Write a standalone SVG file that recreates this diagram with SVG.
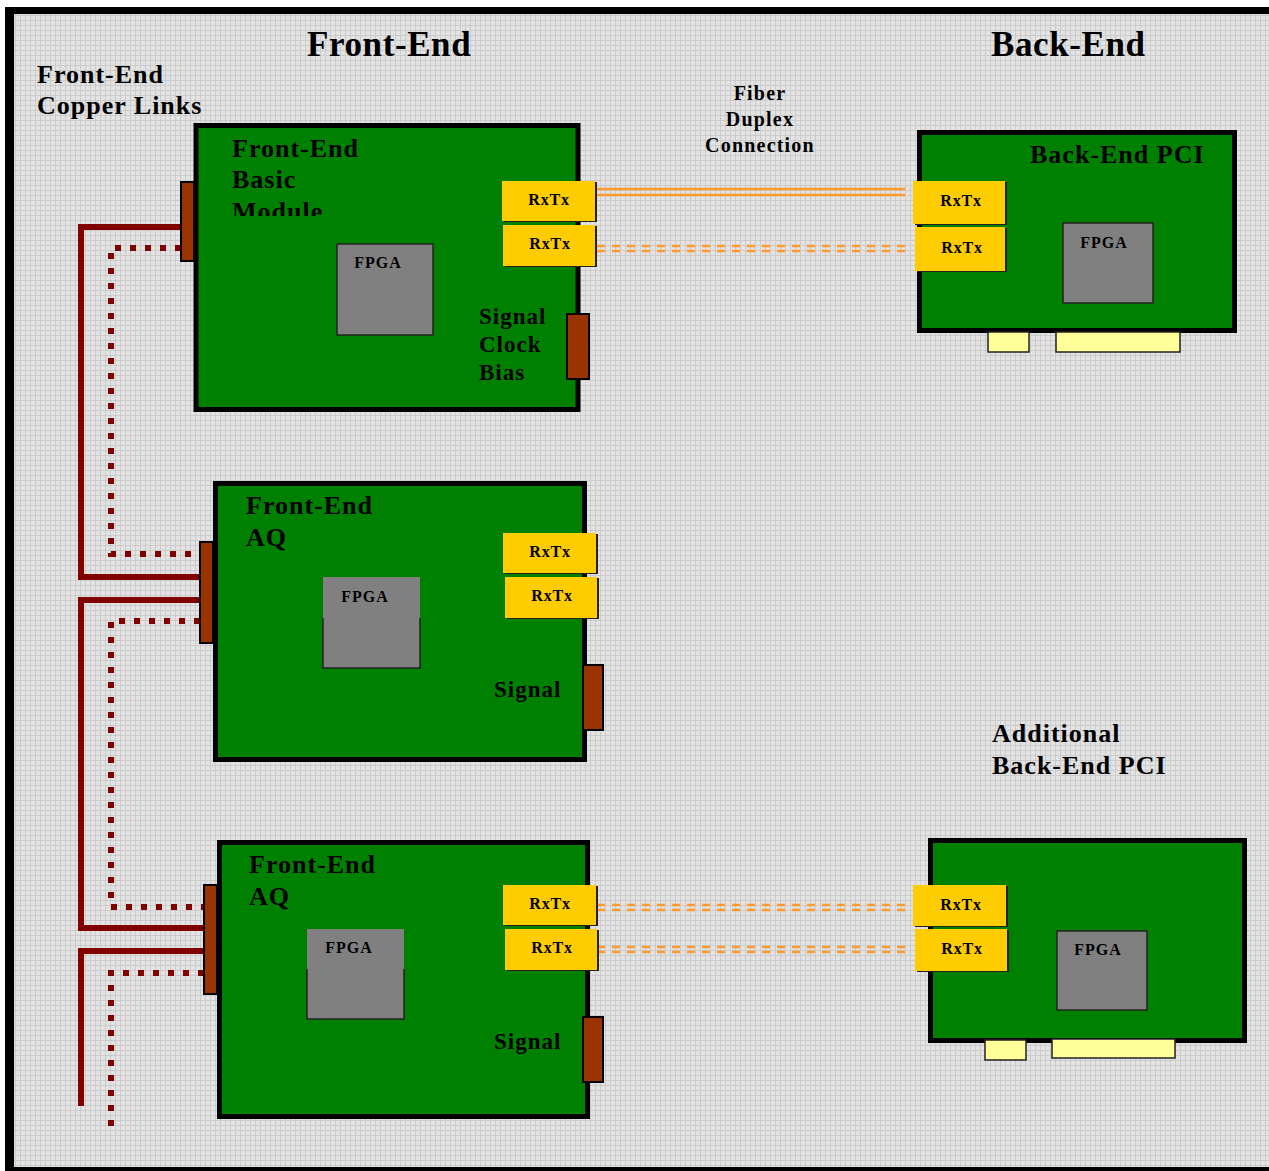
<svg xmlns="http://www.w3.org/2000/svg" width="1269" height="1171" viewBox="0 0 1269 1171">
<defs>
<pattern id="grid" x="0" y="0" width="5" height="5" patternUnits="userSpaceOnUse">
<rect width="5" height="5" fill="#e3e3e3"/>
<path d="M0 0.5H5M0.5 0V5" stroke="#cbcbcb" stroke-width="1"/>
</pattern>
<clipPath id="modclip"><rect x="190" y="120" width="400" height="96"/></clipPath>
<style>
.t{font-family:"Liberation Serif","Times New Roman",serif;font-weight:bold;fill:#000;letter-spacing:1px}
.big{font-size:35px;letter-spacing:0.6px}
.lbl{font-size:26px}
.sig{font-size:23px}
.fib{font-size:20px;letter-spacing:1.2px}
.rx{font-size:16px;letter-spacing:0.8px;text-anchor:middle}
.fp{font-size:16px;letter-spacing:1px;text-anchor:middle}
.board{fill:#008000;stroke:#000;stroke-width:5}
.conn{fill:#993300;stroke:#000;stroke-width:2}
.rxb{fill:#ffcc00}
.rxs{fill:#222}
.fpga{fill:#808080}
.fpo{fill:none;stroke:#222;stroke-width:1.5}
.tab{fill:#ffff99;stroke:#222;stroke-width:1.5}
.cu{fill:none;stroke:#800000;stroke-width:6}
.cud{fill:none;stroke:#800000;stroke-width:6;stroke-dasharray:6 9}
.fo{fill:none;stroke:#ff9a2e;stroke-width:2.5}
.fod{fill:none;stroke:#ff9a2e;stroke-width:2.5;stroke-dasharray:8 7}
</style>
</defs>

<g id="frame">
<rect x="0" y="0" width="1269" height="1171" fill="#ffffff"/>
<rect x="5" y="7" width="1264" height="1164" fill="#000"/>
<rect x="14" y="14" width="1255" height="1153" fill="url(#grid)"/>
</g>

<g id="titles">
<text class="t big" x="307" y="56">Front-End</text>
<text class="t big" x="991" y="56">Back-End</text>
<text class="t lbl" x="37" y="83">Front-End</text>
<text class="t lbl" x="37" y="114">Copper Links</text>
<text class="t fib" x="760" y="100" text-anchor="middle">Fiber</text>
<text class="t fib" x="760" y="126" text-anchor="middle">Duplex</text>
<text class="t fib" x="760" y="152" text-anchor="middle">Connection</text>
<text class="t lbl" x="992" y="742">Additional</text>
<text class="t lbl" x="992" y="774">Back-End PCI</text>
</g>

<g id="connectors">
<path class="cu" d="M181 227H81V577H200"/>
<path class="cu" d="M200 600H81V928H204"/>
<path class="cu" d="M204 951H81V1106"/>
<path class="cud" d="M181 248H111V554H200"/>
<path class="cud" d="M200 621H111V907H204"/>
<path class="cud" d="M204 973H111V1126"/>
<path class="fo" d="M597 189H905M597 195H905"/>
<path class="fod" d="M597 246H910M597 251H910"/>
<path class="fod" d="M597 905H910M597 910H910"/>
<path class="fod" d="M597 947H910M597 952H910"/>
</g>

<g id="fe-basic-module">
<rect class="board" x="196" y="125.5" width="382" height="284"/>
<rect class="conn" x="181" y="182" width="13" height="79"/>
<rect class="conn" x="567" y="314" width="22" height="65"/>
<text class="t lbl" x="232" y="157">Front-End</text>
<text class="t lbl" x="232" y="188">Basic</text>
<text class="t lbl" x="232" y="220" clip-path="url(#modclip)">Module</text>
<text class="t sig" x="479" y="324">Signal</text>
<text class="t sig" x="479" y="352">Clock</text>
<text class="t sig" x="479" y="380">Bias</text>
<rect class="fpga" x="337" y="244" width="96" height="91" stroke="#222" stroke-width="1.5"/>
<text class="t fp" x="378" y="268">FPGA</text>
<rect class="rxs" x="504" y="182" width="93" height="40"/>
<rect class="rxb" x="502" y="181" width="93" height="40"/>
<text class="t rx" x="549" y="205">RxTx</text>
<rect class="rxs" x="505" y="226" width="92" height="41"/>
<rect class="rxb" x="503" y="225" width="92" height="41"/>
<text class="t rx" x="550" y="249">RxTx</text>
</g>

<g id="fe-aq-1">
<rect class="board" x="215.5" y="483.5" width="369" height="276"/>
<rect class="conn" x="200" y="542" width="13" height="101"/>
<rect class="conn" x="583" y="665" width="20" height="65"/>
<text class="t lbl" x="246" y="514">Front-End</text>
<text class="t lbl" x="246" y="546">AQ</text>
<text class="t sig" x="494" y="697">Signal</text>
<rect class="fpga" x="323" y="577" width="97" height="91"/>
<path class="fpo" d="M323 618V668H420V618"/>
<text class="t fp" x="365" y="602">FPGA</text>
<rect class="rxs" x="505" y="534" width="93" height="40"/>
<rect class="rxb" x="503" y="533" width="93" height="40"/>
<text class="t rx" x="550" y="557">RxTx</text>
<rect class="rxs" x="507" y="578" width="92" height="41"/>
<rect class="rxb" x="505" y="577" width="92" height="41"/>
<text class="t rx" x="552" y="601">RxTx</text>
</g>

<g id="fe-aq-2">
<rect class="board" x="219.5" y="842.5" width="368" height="274"/>
<rect class="conn" x="204" y="885" width="13" height="109"/>
<rect class="conn" x="583" y="1017" width="20" height="65"/>
<text class="t lbl" x="249" y="873">Front-End</text>
<text class="t lbl" x="249" y="905">AQ</text>
<text class="t sig" x="494" y="1049">Signal</text>
<rect class="fpga" x="307" y="929" width="97" height="90"/>
<path class="fpo" d="M307 969V1019H404V969"/>
<text class="t fp" x="349" y="953">FPGA</text>
<rect class="rxs" x="505" y="886" width="93" height="40"/>
<rect class="rxb" x="503" y="885" width="93" height="40"/>
<text class="t rx" x="550" y="909">RxTx</text>
<rect class="rxs" x="507" y="930" width="92" height="41"/>
<rect class="rxb" x="505" y="929" width="92" height="41"/>
<text class="t rx" x="552" y="953">RxTx</text>
</g>

<g id="be-pci">
<rect class="board" x="919.5" y="132.5" width="315" height="198"/>
<rect class="tab" x="988" y="332" width="41" height="20"/>
<rect class="tab" x="1056" y="332" width="124" height="20"/>
<text class="t lbl" x="1030" y="163">Back-End PCI</text>
<rect class="fpga" x="1063" y="223" width="90" height="80" stroke="#222" stroke-width="1.5"/>
<text class="t fp" x="1104" y="248">FPGA</text>
<rect class="rxs" x="915" y="182" width="92" height="43"/>
<rect class="rxb" x="913" y="181" width="92" height="43"/>
<text class="t rx" x="961" y="206">RxTx</text>
<rect class="rxs" x="917" y="228" width="90" height="44"/>
<rect class="rxb" x="915" y="227" width="90" height="44"/>
<text class="t rx" x="962" y="253">RxTx</text>
</g>

<g id="be-pci-additional">
<rect class="board" x="930.5" y="840.5" width="314" height="200"/>
<rect class="tab" x="985" y="1040" width="41" height="20"/>
<rect class="tab" x="1052" y="1039" width="123" height="19"/>
<rect class="fpga" x="1057" y="931" width="90" height="79" stroke="#222" stroke-width="1.5"/>
<text class="t fp" x="1098" y="955">FPGA</text>
<rect class="rxs" x="915" y="886" width="93" height="41"/>
<rect class="rxb" x="913" y="885" width="93" height="41"/>
<text class="t rx" x="961" y="910">RxTx</text>
<rect class="rxs" x="917" y="930" width="92" height="42"/>
<rect class="rxb" x="915" y="929" width="92" height="42"/>
<text class="t rx" x="962" y="954">RxTx</text>
</g>
</svg>
